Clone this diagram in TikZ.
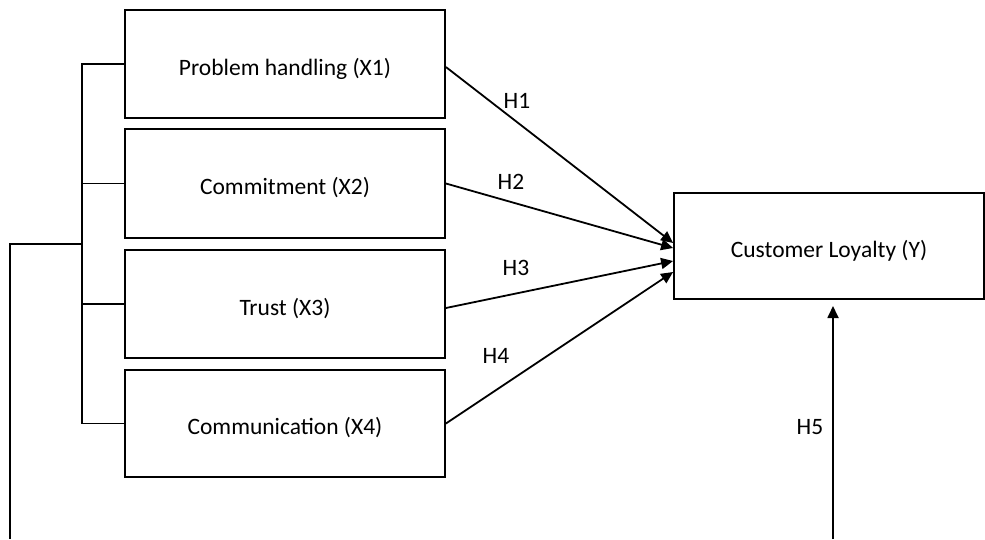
\documentclass[tikz,border=0pt]{standalone}
\usepackage{fontspec}
\setmainfont{Carlito}
\usetikzlibrary{arrows.meta,calc}
\begin{document}
\begin{tikzpicture}[x=1pt,y=-1pt,
  box/.style={draw,line width=1.8pt,minimum width=320pt,inner sep=0pt,text height=24pt,text depth=2pt,font=\fontsize{23.5}{28}\selectfont},
  conn/.style={line width=1.8pt,line join=miter},
  arr/.style={line width=1.8pt,-{Triangle[length=12pt,width=11pt]}},
  lab/.style={font=\fontsize{23.5}{28}\selectfont,inner sep=0pt}]
\useasboundingbox (0,0) rectangle (985,539);
\node[box,minimum height=108pt] (x1) at (285,64) {Problem handling (X1)};
\node[box,minimum height=109pt] (x2) at (285,183.5) {Commitment (X2)};
\node[box,minimum height=108pt] (x3) at (285,304) {Trust (X3)};
\node[box,minimum height=107pt] (x4) at (285,423.5) {Communication (X4)};
\node[box,minimum width=310pt,minimum height=106pt] (y) at (829,246) {Customer Loyalty (Y)};
% bracket
\coordinate (j) at (82,244);
\coordinate (c) at (10,244);
\coordinate (e) at (10,539);
\draw[conn] (x1.west) -| (j) |- (x4.west);
\draw[conn] (x2.west) -- (x2.west -| j);
\draw[conn] (x3.west) -- (x3.west -| j);
\draw[conn] (j) -- (c) -- (e);
% arrows
\draw[arr] ($(x1.east)+(0,3)$) -- ($(y.west)+(0,-3)$);
\draw[arr] (x2.east) -- ($(y.west)+(0,2)$);
\draw[arr] ($(x3.east)+(0,4)$) -- ($(y.west)+(0,15)$);
\draw[arr] (x4.east) -- ($(y.west)+(0,26)$);
\coordinate (h5s) at (833,539);
\coordinate (h5e) at (833,306);
\draw[arr] (h5s) -- (h5e);
\node[lab] (h1) at (517,101) {H1};
\node[lab] (h2) at (511,182) {H2};
\node[lab] (h3) at (516,268) {H3};
\node[lab] (h4) at (496,356) {H4};
\node[lab] (h5) at (810,427) {H5};
\end{tikzpicture}
\end{document}
